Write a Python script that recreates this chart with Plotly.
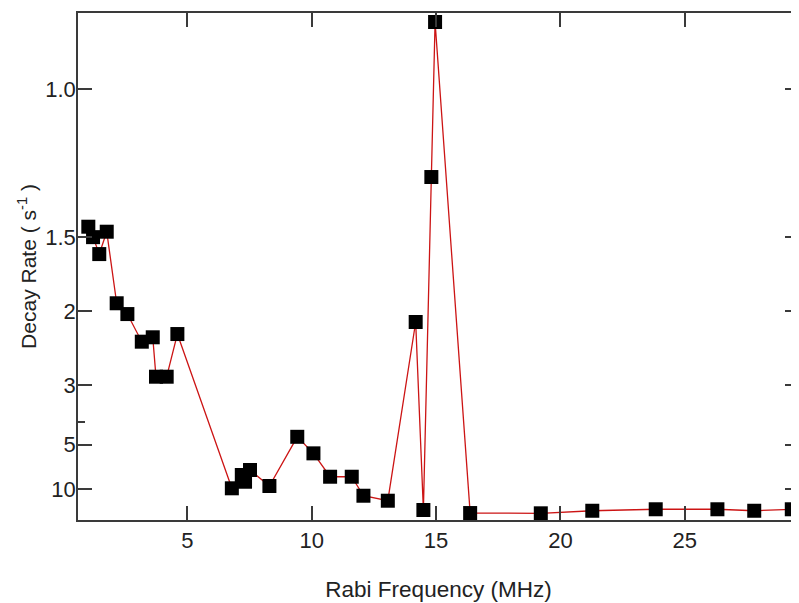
import plotly.graph_objects as go

# Data
rabi_mhz = [1.02, 1.21, 1.46, 1.76, 2.16, 2.59, 3.17, 3.61, 3.74, 4.17, 4.60,
            6.79, 7.19, 7.32, 7.52, 8.30, 9.42, 10.07, 10.74, 11.61, 12.08, 13.06,
            14.18, 14.49, 14.81, 14.96, 16.37, 19.21, 21.28, 23.83, 26.31, 27.79, 29.30]
decay_rate = [1.449, 1.50, 1.591, 1.473, 1.931, 2.026, 2.318, 2.266, 2.836, 2.836, 2.229,
              9.85, 7.61, 8.60, 7.01, 9.37, 4.60, 5.55, 7.84, 7.84, 11.79, 13.59,
              2.102, 18.99, 1.247, 0.869, 21.8, 22.1, 19.6, 18.4, 18.4, 19.6, 18.4]

x_ticks = [5, 10, 15, 20, 25]
y_tick_rates = [1.0, 1.5, 2, 3, 5, 10]
y_tick_text = ["1.0", "1.5", "2", "3", "5", "10"]
y_minor_rates = [4]

# The vertical axis is linear in 1/rate (inverted scale), labelled in rate
y_plot = [1.0 / r for r in decay_rate]
y_tickvals = [1.0 / r for r in y_tick_rates]
y_minorvals = [1.0 / r for r in y_minor_rates]

axis_col = "#3a3a3a"
font_fam = "Liberation Sans, Arial, sans-serif"

fig = go.Figure()
fig.add_trace(go.Scatter(
    x=rabi_mhz, y=y_plot, mode="lines+markers",
    line=dict(color="#cc1414", width=1.3),
    marker=dict(symbol="square", size=14, color="black", line=dict(width=0)),
    showlegend=False, hoverinfo="x+y"))
# invisible trace to carry the mirrored right-hand ticks
fig.add_trace(go.Scatter(
    x=rabi_mhz, y=y_plot, yaxis="y2", mode="markers",
    marker=dict(opacity=0), showlegend=False, hoverinfo="skip"))

yrange = [0.0302, 1.171]

fig.update_layout(
    width=791, height=595,
    margin=dict(l=70, r=0, t=5, b=83),
    paper_bgcolor="white", plot_bgcolor="white",
    font=dict(family=font_fam, size=21, color="#222"),
    xaxis=dict(
        range=[0.605, 29.59], tickvals=x_ticks, ticktext=[str(v) for v in x_ticks],
        ticks="inside", ticklen=14, tickwidth=1.5, tickcolor=axis_col,
        showline=True, linecolor=axis_col, linewidth=1.5, mirror="ticks",
        showgrid=False, zeroline=False,
        tickfont=dict(size=22),
        title=dict(text="Rabi Frequency (MHz)", font=dict(size=22.5), standoff=29),
    ),
    yaxis=dict(
        range=yrange, tickvals=y_tickvals, ticktext=y_tick_text,
        ticks="inside", ticklen=14, tickwidth=1.5, tickcolor=axis_col,
        minor=dict(tickvals=y_minorvals, ticks="inside", ticklen=7,
                   tickwidth=1.5, tickcolor=axis_col),
        showline=True, linecolor=axis_col, linewidth=1.5, mirror=False,
        showgrid=False, zeroline=False,
        tickfont=dict(size=22), ticklabelstandoff=-4,
        title=dict(text="Decay Rate ( s<sup>-1</sup> )", font=dict(size=21), standoff=3),
    ),
    yaxis2=dict(
        overlaying="y", side="right", range=yrange, tickvals=y_tickvals,
        showticklabels=False,
        ticks="inside", ticklen=14, tickwidth=1.5, tickcolor=axis_col,
        minor=dict(tickvals=y_minorvals, ticks="inside", ticklen=7,
                   tickwidth=1.5, tickcolor=axis_col),
        showline=False, showgrid=False, zeroline=False,
    ),
)

fig.write_html("out.html")
